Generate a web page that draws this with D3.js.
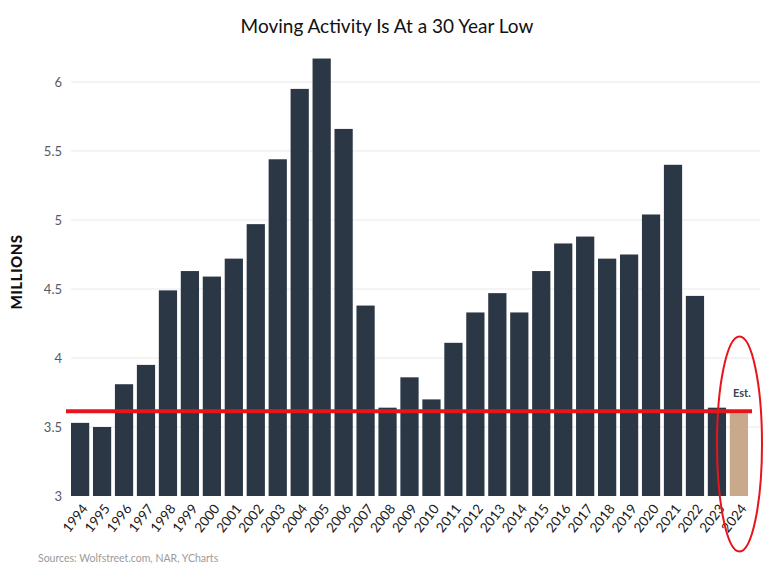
<!DOCTYPE html>
<html><head><meta charset="utf-8">
<script src="https://cdn.jsdelivr.net/npm/d3@7"></script>
<style>body{margin:0;background:#fff}svg{display:block;font-family:Lato,"Open Sans",sans-serif}</style>
</head><body><svg id="c" width="768" height="571"></svg>
<script>
const years = ["1994","1995","1996","1997","1998","1999","2000","2001","2002","2003","2004","2005","2006","2007","2008","2009","2010","2011","2012","2013","2014","2015","2016","2017","2018","2019","2020","2021","2022","2023","2024"];
const movers = [3.53,3.50,3.81,3.95,4.49,4.63,4.59,4.72,4.97,5.44,5.95,6.17,5.66,4.38,3.64,3.86,3.70,4.11,4.33,4.47,4.33,4.63,4.83,4.88,4.72,4.75,5.04,5.40,4.45,3.64,3.60];
const estimateYear = "2024";
const yTicks = [3,3.5,4,4.5,5,5.5,6];
const lowLine = 3.615;

const svg = d3.select("#c");
const x = d3.scaleBand().domain(years).range([71, 748]).paddingInner(0.17).paddingOuter(0.0);
const y = d3.scaleLinear().domain([3, 6]).range([496, 82]);

// grid
svg.append("g").selectAll("line").data(yTicks.slice(1)).join("line")
  .attr("x1", 71).attr("x2", 760).attr("y1", d=>y(d)).attr("y2", d=>y(d))
  .attr("stroke", "#e9e9e9").attr("stroke-width", 1);

// y labels
const yAxis = svg.append("g").attr("transform","translate(62,0)")
  .call(d3.axisLeft(y).tickValues(yTicks).tickSize(0).tickPadding(0).tickFormat(d=>String(d)));
yAxis.select(".domain").remove();
yAxis.selectAll("text").attr("font-size", 13).attr("fill", "#555b66").attr("font-family","Lato,'Open Sans',sans-serif");

// bars
svg.append("g").selectAll("rect").data(years).join("rect")
  .attr("x", d=>x(d)).attr("width", x.bandwidth())
  .attr("y", (d,i)=>y(movers[i])).attr("height", (d,i)=>y(3)-y(movers[i]))
  .attr("fill", d=> d===estimateYear ? "#c8a98b" : "#2b3745");

// x labels
const xAxis = svg.append("g").attr("transform","translate(0,503)")
  .call(d3.axisBottom(x).tickSize(0).tickPadding(0));
xAxis.select(".domain").remove();
xAxis.selectAll("text")
  .attr("font-size", 13.5).attr("fill", "#1a1a1a").attr("font-family","Lato,'Open Sans',sans-serif")
  .attr("text-anchor","end").attr("dy","0.7em").attr("dx","0")
  .attr("transform","translate(1,0) rotate(-52)");

// low line
svg.append("line").attr("x1", 66).attr("x2", 752).attr("y1", y(lowLine)).attr("y2", y(lowLine))
  .attr("stroke", "#e8141b").attr("stroke-width", 4);

// Est.
svg.append("text").attr("x", x(estimateYear)+x.bandwidth()/2+3).attr("y", 397)
  .attr("text-anchor","middle").attr("font-size", 11).attr("font-weight", 700).attr("fill","#3b4452").text("Est.");

// ellipse
svg.append("ellipse").attr("cx", 739.5).attr("cy", 444).attr("rx", 22.5).attr("ry", 107.5)
  .attr("fill","none").attr("stroke","#e8141b").attr("stroke-width", 2);

// title
svg.append("text").attr("x", 387).attr("y", 33).attr("text-anchor","middle")
  .attr("font-size", 19).attr("fill","#111").text("Moving Activity Is At a 30 Year Low");

// y title
svg.append("text").attr("transform","translate(22,272) rotate(-90)").attr("text-anchor","middle")
  .attr("font-size", 15).attr("font-weight", 900).attr("fill","#111").attr("letter-spacing", 0.5).text("MILLIONS");

// source
svg.append("text").attr("x", 38).attr("y", 562).attr("font-size", 10.5).attr("fill","#9a9a9a").text("Sources: Wolfstreet.com, NAR, YCharts");
</script></body></html>
